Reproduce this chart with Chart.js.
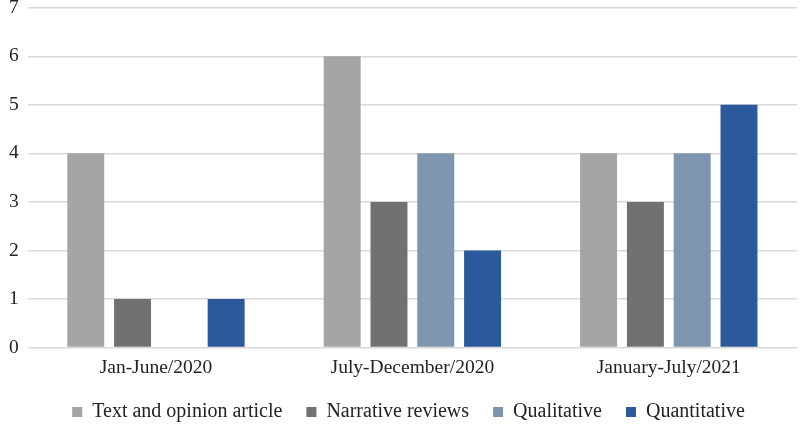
<!DOCTYPE html>
<html>
<head>
<meta charset="utf-8">
<script src="https://cdn.jsdelivr.net/npm/chart.js@4"></script>
<style>
  body { margin: 0; background: #fff; overflow: hidden; }
  #studyChart { display: block; margin-top: -13px; }
</style>
</head>
<body>
<canvas id="studyChart" width="800" height="439"></canvas>
<script>
const periods = ['Jan-June/2020', 'July-December/2020', 'January-July/2021'];
const textOpinion = [4, 6, 4];
const narrativeReviews = [1, 3, 3];
const qualitative = [0, 4, 4];
const quantitative = [1, 2, 5];
const yTicks = [0, 1, 2, 3, 4, 5, 6, 7];

Chart.defaults.font.family = '"Liberation Serif", "Times New Roman", serif';
Chart.defaults.font.size = 19.5;
Chart.defaults.color = '#222';

// nudge the legend a bit closer to the axis labels and to the right
const legendNudge = {
    id: 'legendNudge',
    afterLayout(chart) {
        const lg = chart.legend;
        lg.top -= 3; lg.bottom -= 3;
        lg.left += 10; lg.right += 10;
    }
};

const ctx = document.getElementById('studyChart').getContext('2d');

const studyChart = new Chart(ctx, {
    type: 'bar',
    data: {
        labels: periods,
        datasets: [
            { label: 'Text and opinion article', data: textOpinion, backgroundColor: '#A5A5A5' },
            { label: 'Narrative reviews', data: narrativeReviews, backgroundColor: '#727171' },
            { label: 'Qualitative', data: qualitative, backgroundColor: '#7E95B0' },
            { label: 'Quantitative', data: quantitative, backgroundColor: '#2A5A9C' }
        ]
    },
    options: {
        responsive: false,
        animation: false,
        layout: { padding: { top: 0, right: 3, left: 0, bottom: -9 } },
        datasets: {
            bar: { barPercentage: 0.79, categoryPercentage: 0.73 }
        },
        scales: {
            x: {
                grid: { display: false },
                border: { display: false },
                ticks: { padding: 1 }
            },
            y: {
                min: 0,
                max: 7,
                afterBuildTicks: (axis) => { axis.ticks = yTicks.map(v => ({ value: v })); },
                grid: { color: '#D9D9D9', lineWidth: 1.5, drawTicks: false },
                border: { display: false },
                ticks: { padding: 9 }
            }
        },
        plugins: {
            legend: {
                position: 'bottom',
                labels: { boxWidth: 10, boxHeight: 10, padding: 24, font: { size: 20 } }
            },
            tooltip: { enabled: false }
        }
    },
    plugins: [legendNudge]
});
</script>
</body>
</html>
